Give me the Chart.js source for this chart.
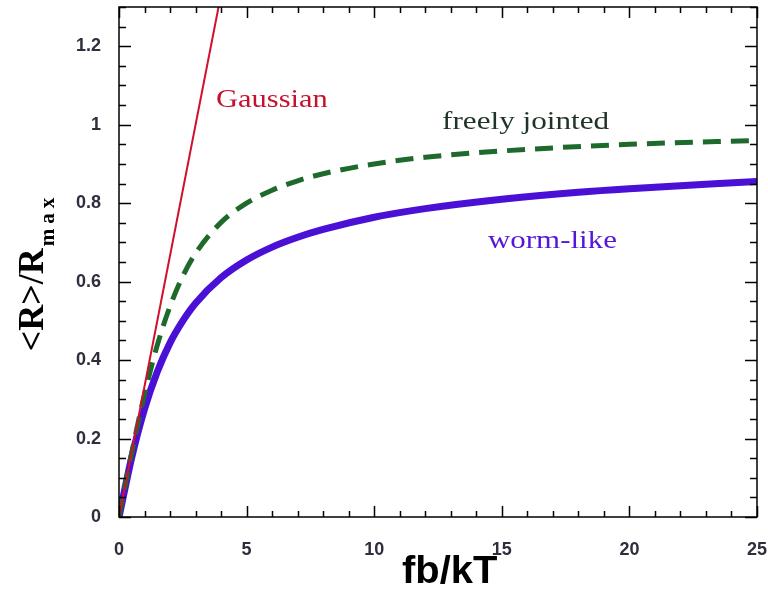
<!DOCTYPE html>
<html>
<head>
<meta charset="utf-8">
<script src="https://cdn.jsdelivr.net/npm/chart.js@4"></script>
<style>
  html, body { margin: 0; padding: 0; background: #fff; }
  #wrap { width: 768px; height: 593px; }
</style>
</head>
<body>
<div id="wrap"><canvas id="chart"></canvas></div>
<script>
// values
const GAUSS_X = [0, 4];
const GAUSS_Y = [0, 1.333];

const FJ_X = [0, 0.5, 1, 1.5, 2, 2.5, 3, 4, 5, 6, 7, 8, 10, 12, 15, 20, 25];
const FJ_Y = [0, 0.164, 0.313, 0.438, 0.537, 0.614, 0.672, 0.751, 0.800, 0.833, 0.857, 0.875, 0.900, 0.917, 0.933, 0.950, 0.960];

const WLC_X = [0, 0.5, 1, 1.5, 2, 2.5, 3, 4, 5, 6, 7, 8, 10, 12, 15, 18, 20, 25];
const WLC_Y = [0, 0.152, 0.275, 0.370, 0.444, 0.500, 0.545, 0.610, 0.655, 0.688, 0.713, 0.733, 0.764, 0.786, 0.810, 0.828, 0.837, 0.855];

const X_TICKS = [0, 5, 10, 15, 20, 25];
const Y_TICKS = [0, 0.2, 0.4, 0.6, 0.8, 1, 1.2];

function toPoints(xs, ys) {
    return xs.map((x, i) => ({ x: x, y: ys[i] }));
}

// stretched text helper (the original picture is a bit wider than tall)
function drawText(ctx, text, x, y, font, color, sx) {
    ctx.save();
    ctx.font = font;
    ctx.fillStyle = color;
    ctx.textBaseline = 'alphabetic';
    ctx.translate(x, y);
    ctx.scale(sx, 1);
    ctx.fillText(text, 0, 0);
    ctx.restore();
}

function noPadding(scale) {
    scale.paddingLeft = 0;
    scale.paddingRight = 0;
    scale.paddingTop = 0;
    scale.paddingBottom = 0;
}

const framePlugin = {
    id: 'frame',
    afterDatasetsDraw(chart) {
        const { ctx, chartArea: a, scales: { x, y } } = chart;
        ctx.save();
        ctx.strokeStyle = '#000';
        ctx.lineWidth = 1.5;
        ctx.beginPath();
        for (let v = 0; v <= 25; v++) {
            const px = Math.round(x.getPixelForValue(v)) + 0.5;
            const len = v % 5 === 0 ? 11 : 6;
            ctx.moveTo(px, a.bottom);
            ctx.lineTo(px, a.bottom - len);
            ctx.moveTo(px, a.top);
            ctx.lineTo(px, a.top + len);
        }
        for (let i = 0; i <= 26; i++) {
            const py = Math.round(y.getPixelForValue(i * 0.05)) + 0.5;
            const len = i % 4 === 0 ? 12 : 7;
            ctx.moveTo(a.left, py);
            ctx.lineTo(a.left + len, py);
            ctx.moveTo(a.right, py);
            ctx.lineTo(a.right - len, py);
        }
        ctx.stroke();
        ctx.strokeRect(a.left, a.top, a.width, a.height);
        ctx.restore();

        // curve labels
        drawText(ctx, 'Gaussian', 216, 107, '25px "Liberation Serif"', '#c4122e', 1.22);
        drawText(ctx, 'freely jointed', 442, 129, '26px "Liberation Serif"', '#1f3326', 1.2);
        drawText(ctx, 'worm-like', 488, 248, '26px "Liberation Serif"', '#5516d6', 1.19);

        // x axis title
        drawText(ctx, 'fb/kT', 402, 583, 'bold 38px "Liberation Sans"', '#000', 1.05);

        // y axis title with subscript
        ctx.save();
        ctx.translate(43, 273);
        ctx.rotate(-Math.PI / 2);
        ctx.fillStyle = '#000';
        ctx.textBaseline = 'alphabetic';
        ctx.font = 'bold 36px "Liberation Serif"';
        const main = '<R>/R';
        const w = ctx.measureText(main).width;
        const sub = 'max';
        ctx.font = 'bold 21px "Liberation Serif"';
        const subGap = 5;
        let subW = 0;
        for (const ch of sub) subW += ctx.measureText(ch).width + subGap;
        let cx = -(w + subW) / 2;
        ctx.font = 'bold 36px "Liberation Serif"';
        ctx.fillText(main, cx, 0);
        cx += w + 2;
        ctx.font = 'bold 21px "Liberation Serif"';
        for (const ch of sub) {
            ctx.fillText(ch, cx, 11);
            cx += ctx.measureText(ch).width + subGap;
        }
        ctx.restore();
    }
};

const ctx = document.getElementById('chart');

new Chart(ctx, {
    type: 'line',
    data: {
        datasets: [{
            label: 'Gaussian',
            data: toPoints(GAUSS_X, GAUSS_Y),
            borderColor: '#d0102c',
            borderWidth: 2,
            pointRadius: 0,
            order: 0
        }, {
            label: 'freely jointed',
            data: toPoints(FJ_X, FJ_Y),
            borderColor: '#1d6a2c',
            borderWidth: 5,
            borderDash: [18, 10],
            pointRadius: 0,
            cubicInterpolationMode: 'monotone',
            order: 1
        }, {
            label: 'worm-like',
            data: toPoints(WLC_X, WLC_Y),
            borderColor: '#4a10d6',
            borderWidth: 7,
            pointRadius: 0,
            cubicInterpolationMode: 'monotone',
            order: 2
        }]
    },
    options: {
        responsive: true,
        maintainAspectRatio: false,
        animation: false,
        layout: {
            padding: { left: 0, right: 11, top: 7, bottom: 0 }
        },
        scales: {
            x: {
                type: 'linear',
                min: 0,
                max: 25,
                grid: { display: false, drawTicks: false },
                border: { display: false },
                afterBuildTicks: (scale) => {
                    scale.ticks = X_TICKS.map(v => ({ value: v }));
                },
                afterFit: (scale) => { scale.height = 76; noPadding(scale); },
                ticks: {
                    padding: 22,
                    color: '#2e2e3c',
                    font: { family: 'Liberation Sans', size: 18, weight: 'bold' },
                    maxRotation: 0
                }
            },
            y: {
                min: 0,
                max: 1.3,
                grid: { display: false, drawTicks: false },
                border: { display: false },
                afterBuildTicks: (scale) => {
                    scale.ticks = Y_TICKS.map(v => ({ value: v }));
                },
                afterFit: (scale) => { scale.width = 119; noPadding(scale); },
                ticks: {
                    padding: 18,
                    color: '#2e2e3c',
                    font: { family: 'Liberation Sans', size: 18, weight: 'bold' },
                    callback: (value) => String(+value.toFixed(2))
                }
            }
        },
        plugins: {
            legend: { display: false },
            tooltip: { enabled: false }
        }
    },
    plugins: [framePlugin]
});
</script>
</body>
</html>
